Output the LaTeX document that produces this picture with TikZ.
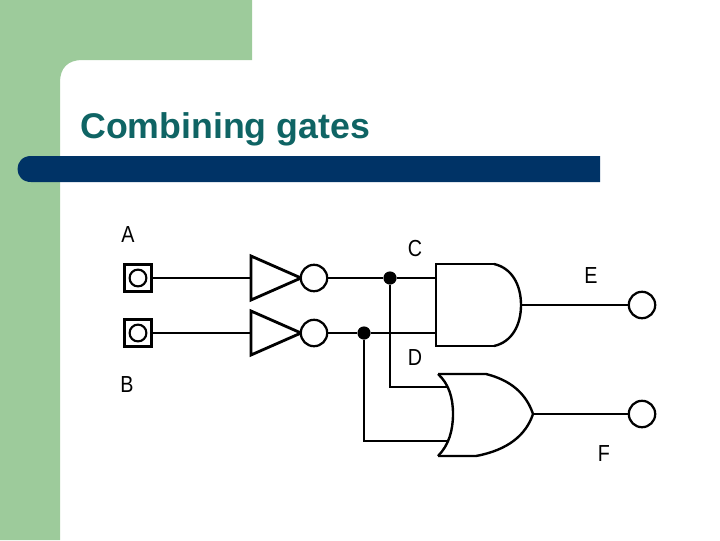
\documentclass[tikz,border=0pt]{standalone}
\usepackage{fontspec}
\setmainfont{Liberation Sans}

\definecolor{slidegreen}{HTML}{9DCB9B}
\definecolor{slidenavy}{HTML}{003366}
\definecolor{slideteal}{HTML}{0F6464}

\tikzset{
  wire/.style={line width=2.1pt},
  gate/.style={line width=1.7pt, line join=miter},
  bubble/.style={circle, draw, line width=1.6pt, fill=white, inner sep=0pt, minimum size=0.66cm},
  terminal/.style={rectangle, draw, line width=2.1pt, inner sep=0pt, minimum size=0.66cm},
  hole/.style={circle, draw, line width=1.5pt, inner sep=0pt, minimum size=0.42cm},
  junction/.style={circle, fill=black, inner sep=0pt, minimum size=0.33cm},
  pinlabel/.style={font=\fontsize{16.5}{16.5}\selectfont, xscale=0.85},
}

\begin{document}
\begin{tikzpicture}[x=0.025cm, y=-0.025cm]
\useasboundingbox (0,0) rectangle (720,540);

%% slide background
\fill[slidegreen] (0,0) -- (252,0) -- (252,60) -- (82,60) .. controls (68,60) and (60,68) .. (60,82) -- (60,540) -- (0,540) -- cycle;
\fill[slidenavy] (31,156) -- (600,156) -- (600,182) -- (31,182) .. controls (13,182) and (13,156) .. (31,156) -- cycle;
\node[anchor=base west, inner sep=0pt, text=slideteal, font=\fontsize{25.4}{30}\selectfont\bfseries] (title) at (80,138) {Combining gates};

%% inputs
\node[terminal] (inA) at (138,278) {};
\node[terminal] (inB) at (138,333) {};
\node[hole] (holeA) at (138,278) {};
\node[hole] (holeB) at (138,333) {};

%% inverters
\coordinate (notA) at (251,278);
\coordinate (notB) at (251,333);
\draw[gate, line width=2pt] (251,256) -- (251,300) -- (301,278) -- cycle;
\draw[gate, line width=2pt] (251,311) -- (251,355) -- (301,333) -- cycle;
\node[bubble] (bubA) at (314,278) {};
\node[bubble] (bubB) at (314,333) {};

%% and gate
\coordinate (andC) at (436,278);
\coordinate (andD) at (436,333);
\coordinate (andE) at (521,305);
\draw[gate, line width=2.1pt] (494,264) -- (436,264) -- (436,346) -- (494,346);
\draw[gate] (494,264) .. controls (512,268) and (521,285) .. (andE) .. controls (521,325) and (512,342) .. (494,346);

%% or gate
\coordinate (orC) at (448,387);
\coordinate (orD) at (448,441);
\coordinate (orF) at (533,414);
\draw[gate] (438,374) -- (486,374) .. controls (510,380) and (526,393) .. (orF) .. controls (526,435) and (508,450) .. (476,456) -- (438,456);
\draw[gate] (438,374) .. controls (449,384) and (453,398) .. (453,414) .. controls (453,430) and (449,445) .. (438,456);

%% junctions
\node[junction] (dotC) at (390,278) {};
\node[junction] (dotD) at (364,333) {};

%% outputs
\node[bubble] (outE) at (642,305) {};
\node[bubble] (outF) at (642,414) {};

%% wires
\draw[wire] (inA) -- (notA);
\draw[wire] (inB) -- (notB);
\draw[wire] (bubA) -- (dotC);
\draw[wire] (dotC) -- (andC);
\draw[wire] (bubB) -- (dotD);
\draw[wire] (dotD) -- (andD);
\draw[wire] (dotC) |- (orC);
\draw[wire] (dotD) |- (orD);
\draw[wire] (andE) -- (outE);
\draw[wire] (orF) -- (outF);

%% pin labels
\node[pinlabel] (labA) at (128,235) {A};
\node[pinlabel] (labB) at (127,385) {B};
\node[pinlabel] (labC) at (415,249) {C};
\node[pinlabel] (labD) at (415,358) {D};
\node[pinlabel] (labE) at (591,276) {E};
\node[pinlabel] (labF) at (604,454) {F};
\end{tikzpicture}
\end{document}
